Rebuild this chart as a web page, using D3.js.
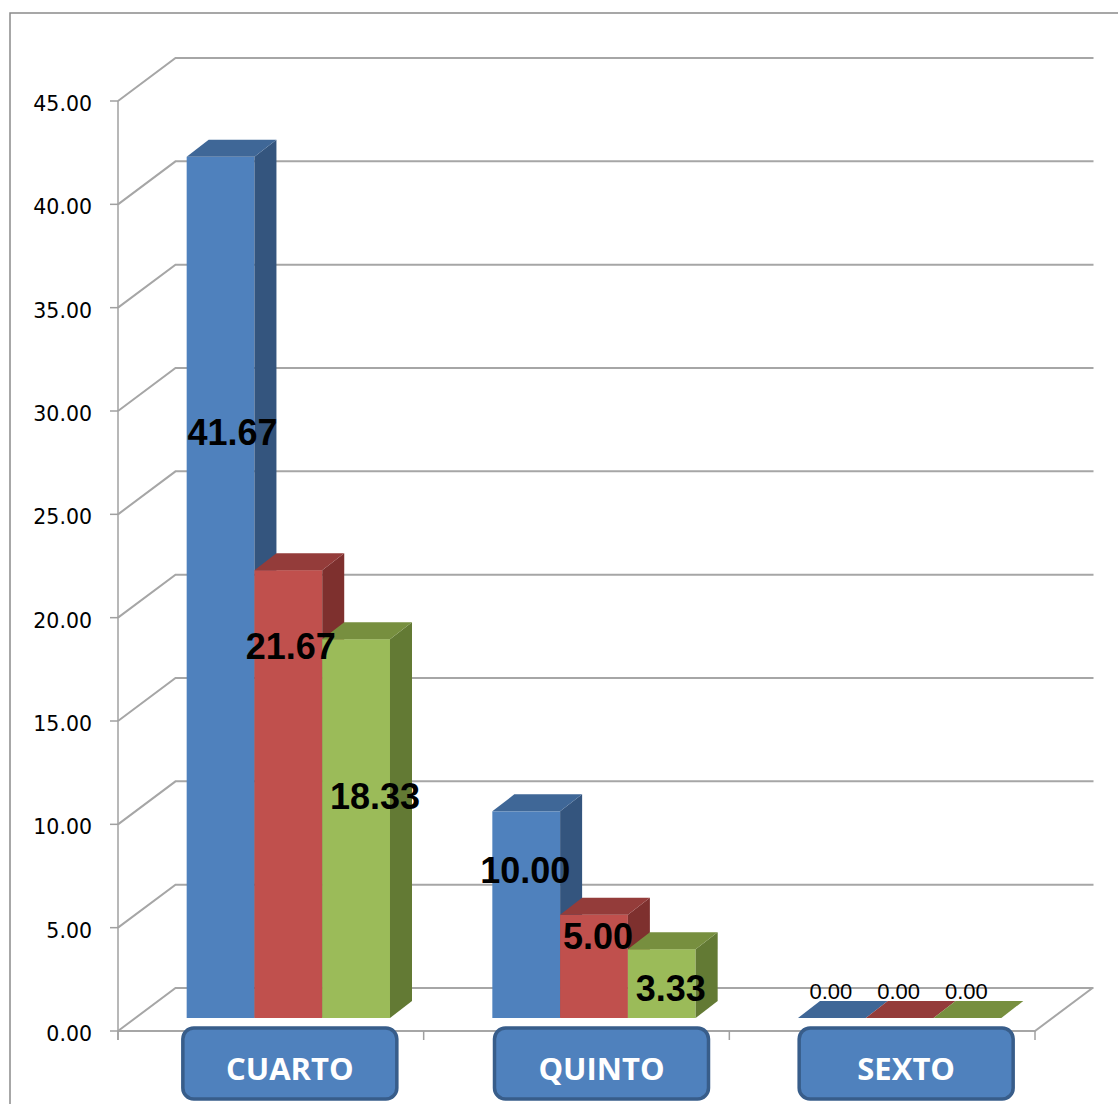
<!DOCTYPE html>
<html><head><meta charset="utf-8">
<script src="https://cdn.jsdelivr.net/npm/d3@7"></script>
<style>html,body{margin:0;padding:0;background:#fff;}svg{display:block;}</style>
</head><body>
<svg id="c" width="1118" height="1104"></svg>
<script>
// ---- data ----
const categories = ["CUARTO", "QUINTO", "SEXTO"];
const seriesNames = ["Serie 1", "Serie 2", "Serie 3"];
const serie1 = [41.67, 10.00, 0.00];
const serie2 = [21.67, 5.00, 0.00];
const serie3 = [18.33, 3.33, 0.00];
const yTicks = [0, 5, 10, 15, 20, 25, 30, 35, 40, 45];
// label anchors (value units, in the bar plane) as placed in the original
const labelAt1 = [28.35, 7.16, 1.3];
const labelAt2 = [18.0, 3.97, 1.3];
const labelAt3 = [10.74, 1.45, 1.3];

// ---- layout ----
const W = 1118, H = 1104;
const plotL = 118, plotR = 1035, plotTop = 101, plotBot = 1031;
const depthX = 57.5, depthY = 43;          // wall depth
const gapX = 17.5, gapY = 13;             // bar offset into depth
const barDX = 22, barDY = 17;             // bar depth
const colors = [
  {front:"#4F81BD", top:"#3F6797", side:"#34557E"},
  {front:"#C0504D", top:"#943C3A", side:"#7E302E"},
  {front:"#9BBB59", top:"#778F3F", side:"#637A34"}
];
const labelNudge = [[12, 2.5, 19], [-1, 4, 9], [-1, -1, -1]];
const boxNudge = [19, 25, 24];

const svg = d3.select("#c");
const y = d3.scaleLinear().domain([0, 45]).range([plotBot, plotTop]);
const x0 = d3.scaleBand().domain(categories).range([plotL, plotR]).paddingInner(0).paddingOuter(0);
const x1 = d3.scaleBand().domain(seriesNames).range([0, x0.bandwidth()]).paddingInner(0).paddingOuter(0.755);
const values = [serie1, serie2, serie3];
const labelAts = [labelAt1, labelAt2, labelAt3];

// outer border
svg.append("rect").attr("x", 10).attr("y", 13).attr("width", 1130).attr("height", 1110)
  .attr("fill", "none").attr("stroke", "#8a8a8a").attr("stroke-width", 1.5);

// gridlines (side wall + back wall)
const grid = svg.append("g").attr("fill", "none").attr("stroke", "#a6a6a6").attr("stroke-width", 2);
yTicks.forEach(t => {
  const yy = y(t);
  grid.append("path").attr("d", `M${plotL},${yy}L${plotL + depthX},${yy - depthY}L${plotR + depthX + 1},${yy - depthY}`);
});
// floor front and right edge
grid.append("path").attr("d", `M${plotL},${plotBot}L${plotR},${plotBot}L${plotR + depthX},${plotBot - depthY}`);

// y axis line + ticks
const ax = svg.append("g").attr("stroke", "#a0a0a0").attr("stroke-width", 1.5);
ax.append("line").attr("x1", plotL).attr("x2", plotL).attr("y1", y(45)).attr("y2", plotBot + 9);
yTicks.forEach(t => {
  ax.append("line").attr("x1", plotL - 8).attr("x2", plotL).attr("y1", y(t)).attr("y2", y(t));
});
// category ticks
const catEdges = categories.map(c => x0(c)).concat([plotR]);
catEdges.forEach(e => {
  ax.append("line").attr("x1", e).attr("x2", e).attr("y1", plotBot).attr("y2", plotBot + 9);
});

// y tick labels
svg.append("g").selectAll("text").data(yTicks).join("text")
  .attr("x", 92).attr("y", d => y(d) + 10)
  .attr("text-anchor", "end")
  .attr("font-family", "DejaVu Sans, Verdana, sans-serif").attr("font-size", 20.5)
  .attr("fill", "#000").text(d => d.toFixed(2));

// bars
const yb = v => y(v) - gapY;
const bars = svg.append("g");
categories.forEach((c, ci) => {
  seriesNames.forEach((s, si) => {
    const v = values[si][ci];
    const xl = x0(c) + x1(s) + gapX, xr = xl + x1.bandwidth();
    const yt = yb(v), ybot = yb(0);
    const col = colors[si];
    const g = bars.append("g");
    if (v > 0) {
      g.append("rect").attr("x", xl).attr("y", yt).attr("width", xr - xl).attr("height", ybot - yt).attr("fill", col.front);
      g.append("path").attr("d", `M${xr},${yt}L${xr + barDX},${yt - barDY}L${xr + barDX},${ybot - barDY}L${xr},${ybot}Z`).attr("fill", col.side);
    }
    g.append("path").attr("d", `M${xl},${yt}L${xl + barDX},${yt - barDY}L${xr + barDX},${yt - barDY}L${xr},${yt}Z`).attr("fill", col.top);
  });
});

// data labels
const lab = svg.append("g");
categories.forEach((c, ci) => {
  seriesNames.forEach((s, si) => {
    const v = values[si][ci];
    const cx = x0(c) + x1(s) + gapX + x1.bandwidth() / 2 + labelNudge[ci][si];
    const cy = yb(labelAts[si][ci]);
    const big = v > 0;
    lab.append("text")
      .attr("x", cx).attr("y", cy + (big ? 13 : 8))
      .attr("text-anchor", "middle")
      .attr("font-family", big ? "Liberation Sans, Arial, sans-serif" : "Liberation Sans Narrow, Arial Narrow, sans-serif")
      .attr("font-weight", big ? "bold" : "normal")
      .attr("font-size", big ? 36 : 22)
      .attr("fill", "#000")
      .text(v.toFixed(2));
  });
});

// category label boxes
const cat = svg.append("g");
categories.forEach((c, ci) => {
  const cx = x0(c) + x0.bandwidth() / 2 + boxNudge[ci];
  cat.append("rect").attr("x", cx - 107).attr("y", 1028).attr("width", 214).attr("height", 71)
    .attr("rx", 11).attr("ry", 11)
    .attr("fill", "#4F81BD").attr("stroke", "#385D8A").attr("stroke-width", 3.5);
  cat.append("text").attr("x", cx).attr("y", 1080).attr("text-anchor", "middle")
    .attr("font-family", "Open Sans, Lato, sans-serif").attr("font-weight", "bold")
    .attr("font-size", 31).attr("fill", "#fff").text(c);
});
</script>
</body></html>
